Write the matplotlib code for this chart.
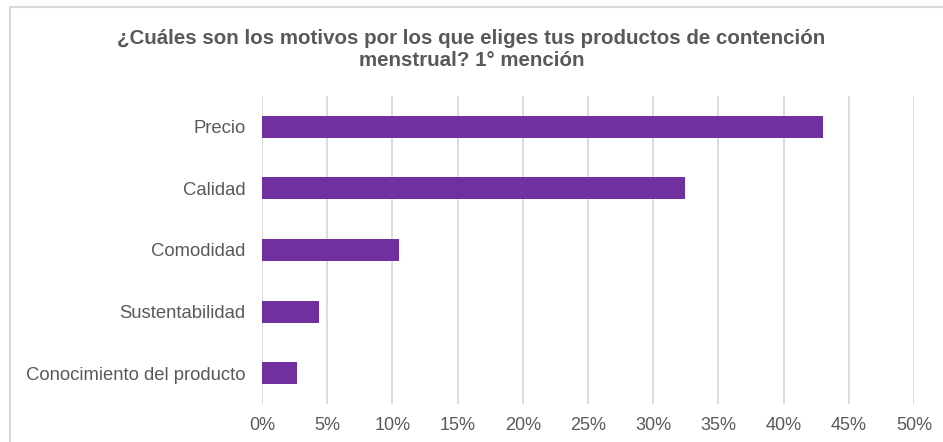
import matplotlib.pyplot as plt
from matplotlib.ticker import FuncFormatter
from matplotlib.lines import Line2D

# data
categorias = ['Precio', 'Calidad', 'Comodidad', 'Sustentabilidad',
              'Conocimiento del producto']
porcentajes = [43.0, 32.45, 10.5, 4.4, 2.65]
ticks_x = [0, 5, 10, 15, 20, 25, 30, 35, 40, 45, 50]

plt.rcParams['font.family'] = ['Liberation Sans', 'DejaVu Sans']
gris_texto = '#595959'
morado = '#7030A0'

fig = plt.figure(figsize=(9.43, 4.42), dpi=100)
ax = fig.add_axes([262 / 943, 1 - 404 / 442, (914 - 262) / 943, (404 - 96) / 442])

pos = list(range(len(categorias)))
ax.barh(pos, porcentajes, height=0.36, color=morado, zorder=3)
ax.set_ylim(len(categorias) - 0.5, -0.5)
ax.set_yticks(pos)
ax.set_yticklabels(categorias, fontsize=13.3, color=gris_texto)

ax.set_xlim(0, 50)
ax.set_xticks(ticks_x)
ax.xaxis.set_major_formatter(FuncFormatter(lambda v, p: f'{v:.0f}%'))
ax.tick_params(axis='x', labelsize=13, labelcolor=gris_texto, length=0, pad=9)
ax.tick_params(axis='y', length=0, pad=12)
ax.grid(axis='x', color='#D9D9D9', linewidth=1.3, zorder=0)

for s in ax.spines.values():
    s.set_visible(False)

fig.text(0.5, 1 - 38 / 442, '¿Cuáles son los motivos por los que eliges tus productos de contención',
         ha='center', va='center', fontsize=14.8, fontweight='bold', color=gris_texto)
fig.text(0.5, 1 - 61 / 442, 'menstrual? 1° mención',
         ha='center', va='center', fontsize=14.8, fontweight='bold', color=gris_texto)

# frame lines seen at the top and left of the image
fig.add_artist(Line2D([10 / 943, 1], [1 - 7 / 442, 1 - 7 / 442],
                      transform=fig.transFigure, color='#D9D9D9', linewidth=1.5))
fig.add_artist(Line2D([10 / 943, 10 / 943], [0, 1 - 7 / 442],
                      transform=fig.transFigure, color='#D9D9D9', linewidth=1.5))

fig.savefig('out.png', dpi=100)
